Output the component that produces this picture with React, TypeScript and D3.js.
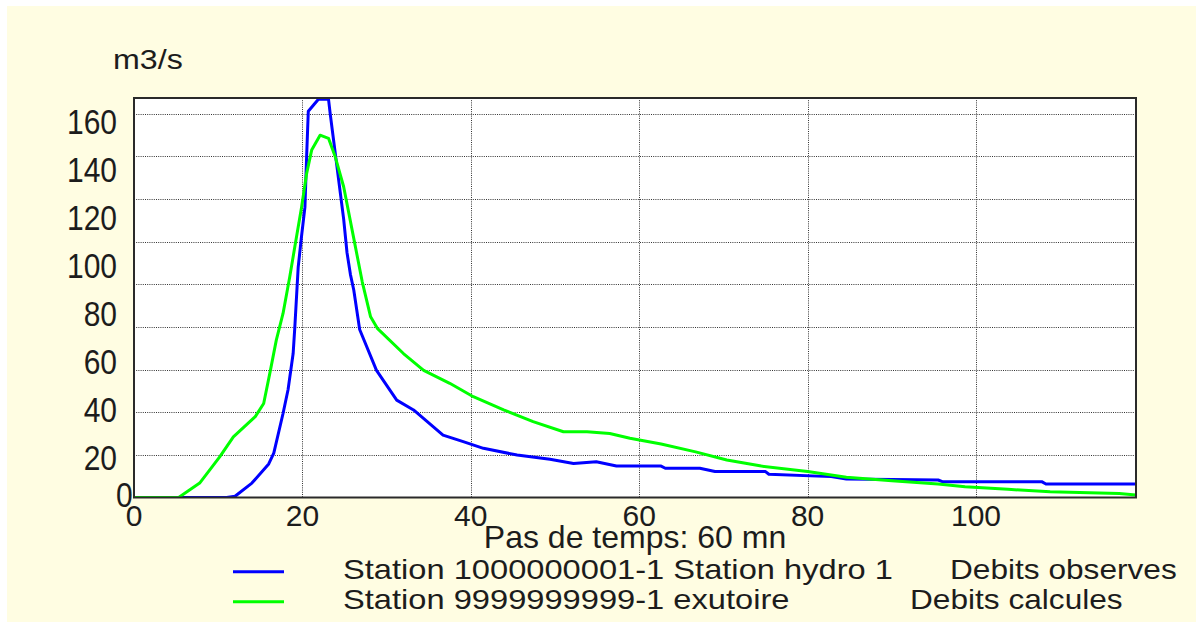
import React, { useRef, useEffect } from "react";
import * as d3 from "d3";

// hourly time step
const obsTime = [0, 11, 12, 14, 16, 16.6, 17.7, 18.3, 18.9, 19.1, 19.5, 19.9, 20.3, 20.5, 20.7, 21.3, 21.9, 23.1, 23.3, 23.7, 24.1, 24.5, 24.9, 25.3, 25.7, 26.1, 26.8, 28.8, 31.2, 33.2, 36.7, 39.1, 41.5, 45.5, 49.4, 52.2, 54.9, 57.3, 62.6, 63.1, 67.2, 69, 75, 75.4, 82.8, 84.6, 95.5, 96, 107.8, 108.3, 119];
const obsFlow = [0, 0, 0.5, 6, 14, 18.5, 35, 45, 60, 71, 96, 109, 121, 142, 161, 163.5, 166, 166, 160, 149, 138, 127, 116, 102, 93, 86.5, 70, 53, 40.6, 36.5, 26, 23.3, 20.5, 17.7, 15.9, 14.2, 14.9, 13.1, 13.1, 12.2, 12.2, 10.8, 10.8, 9.7, 8.7, 7.7, 7.3, 6.6, 6.6, 5.6, 5.6];

const calcTime = [0, 5.3, 7.8, 10.2, 11.8, 14.4, 15.4, 16.2, 16.9, 17.7, 18.5, 19.1, 19.9, 20.5, 21.1, 22.1, 23.1, 23.9, 24.9, 26.1, 27.1, 28.1, 28.9, 32, 34.4, 37.5, 40.3, 43.9, 47.4, 51, 53.8, 56.5, 58.9, 62.6, 66.7, 70.4, 74.5, 80, 84.6, 90, 95.5, 98.7, 103.8, 108.8, 117, 119];
const calcFlow = [0, 0, 6, 17, 25.3, 33.7, 39.2, 53, 65.6, 76.7, 92, 104.5, 121, 135, 144.8, 151, 149.7, 142, 129.5, 108, 90, 75.3, 70.5, 60, 53, 47.6, 42, 36.5, 31.6, 27.4, 27.4, 26.7, 24.7, 22.3, 19, 15.6, 13.1, 10.8, 8.4, 7, 5.6, 4.5, 3.4, 2.4, 1.7, 1];

const xTicks = [0, 20, 40, 60, 80, 100];
const yTicks = [0, 20, 40, 60, 80, 100, 120, 140, 160];

const seriesNames = ["Station 1000000001-1 Station hydro 1", "Station 9999999999-1 exutoire"];
const seriesKinds = ["Debits observes", "Debits calcules"];
const seriesColors = ["#0000ff", "#00ff00"];

const FONT = "'Liberation Sans', Arial, sans-serif";
const INK = "#1c1c1c";

const App = () => {
  const ref = useRef(null);
  const width = 1203;
  const height = 628;
  const plot = { left: 134, top: 98, right: 1136, bottom: 497.5 };

  useEffect(() => {
    const svg = d3.select(ref.current);
    svg.selectAll("*").remove();

    const x = d3.scaleLinear().domain([0, 119]).range([plot.left, plot.right]);
    const y = d3.scaleLinear().domain([0, 166.5]).range([plot.bottom, plot.top]);

    svg.append("rect").attr("width", width).attr("height", height).attr("fill", "#ffffff");
    svg
      .append("rect")
      .attr("x", 7)
      .attr("y", 6)
      .attr("width", 1189)
      .attr("height", 616)
      .attr("fill", "#fffde2");

    svg
      .append("rect")
      .attr("x", plot.left)
      .attr("y", plot.top)
      .attr("width", plot.right - plot.left)
      .attr("height", plot.bottom - plot.top)
      .attr("fill", "#ffffff");

    // the old chart splits 0..160 into 9 grid bands, not on the labels
    const yMax = yTicks[yTicks.length - 1];
    const hGrid = d3.range(1, 10).map((k) => (yMax * k) / 9);
    const grid = svg.append("g").attr("stroke", "#333").attr("stroke-width", 1).attr("stroke-dasharray", "1,1.2");
    grid
      .selectAll("line.h")
      .data(hGrid)
      .enter()
      .append("line")
      .attr("class", "h")
      .attr("x1", plot.left)
      .attr("x2", plot.right)
      .attr("y1", (d) => Math.round(y(d)) + 0.5)
      .attr("y2", (d) => Math.round(y(d)) + 0.5);
    grid
      .selectAll("line.v")
      .data(xTicks.filter((d) => d > 0))
      .enter()
      .append("line")
      .attr("class", "v")
      .attr("x1", (d) => Math.round(x(d)) + 0.5)
      .attr("x2", (d) => Math.round(x(d)) + 0.5)
      .attr("y1", plot.top)
      .attr("y2", plot.bottom);

    svg
      .append("clipPath")
      .attr("id", "plotclip")
      .append("rect")
      .attr("x", plot.left)
      .attr("y", plot.top)
      .attr("width", plot.right - plot.left)
      .attr("height", plot.bottom - plot.top);

    const line = d3
      .line()
      .x((d) => x(d[0]))
      .y((d) => y(d[1]));

    const series = [
      d3.zip(obsTime, obsFlow),
      d3.zip(calcTime, calcFlow),
    ];
    svg
      .append("g")
      .attr("clip-path", "url(#plotclip)")
      .selectAll("path")
      .data(series)
      .enter()
      .append("path")
      .attr("d", (d) => line(d))
      .attr("fill", "none")
      .attr("stroke", (d, i) => seriesColors[i])
      .attr("stroke-width", 3)
      .attr("stroke-linejoin", "round");

    svg
      .append("rect")
      .attr("x", plot.left)
      .attr("y", plot.top)
      .attr("width", plot.right - plot.left)
      .attr("height", plot.bottom - plot.top)
      .attr("fill", "none")
      .attr("stroke", "#2a2a2a")
      .attr("stroke-width", 2);

    // y tick labels (tall narrow glyphs, sit just below their value)
    svg
      .append("g")
      .selectAll("text")
      .data(yTicks)
      .enter()
      .append("text")
      .attr("transform", (d) =>
        d === 0
          ? `translate(116,507) scale(1,1.16)`
          : `translate(117,${y(d) + 20.5}) scale(1,1.16)`
      )
      .attr("text-anchor", (d) => (d === 0 ? "start" : "end"))
      .attr("font-family", FONT)
      .attr("font-size", 30)
      .attr("fill", INK)
      .text((d) => d);

    svg
      .append("g")
      .selectAll("text")
      .data(xTicks)
      .enter()
      .append("text")
      .attr("x", (d) => x(d))
      .attr("y", 526)
      .attr("text-anchor", "middle")
      .attr("font-family", FONT)
      .attr("font-size", 30)
      .attr("fill", INK)
      .text((d) => d);

    svg
      .append("text")
      .attr("transform", "translate(113,69) scale(1.15,1)")
      .attr("font-family", FONT)
      .attr("font-size", 28)
      .attr("fill", INK)
      .text("m3/s");

    svg
      .append("text")
      .attr("x", (plot.left + plot.right) / 2)
      .attr("y", 547.5)
      .attr("text-anchor", "middle")
      .attr("font-family", FONT)
      .attr("font-size", 32)
      .attr("fill", INK)
      .text("Pas de temps: 60 mn");

    // legend
    const rows = [
      { lineY: 571.7, baseY: 578.5, kindX: 950 },
      { lineY: 601.7, baseY: 608.7, kindX: 910 },
    ];
    const legend = svg.append("g");
    rows.forEach((r, i) => {
      legend
        .append("line")
        .attr("x1", 233)
        .attr("x2", 284)
        .attr("y1", r.lineY)
        .attr("y2", r.lineY)
        .attr("stroke", seriesColors[i])
        .attr("stroke-width", 3);
      legend
        .append("text")
        .attr("transform", `translate(343,${r.baseY}) scale(1.166,1)`)
        .attr("font-family", FONT)
        .attr("font-size", 28)
        .attr("fill", INK)
        .text(seriesNames[i]);
      legend
        .append("text")
        .attr("transform", `translate(${r.kindX},${r.baseY}) scale(1.13,1)`)
        .attr("font-family", FONT)
        .attr("font-size", 28)
        .attr("fill", INK)
        .text(seriesKinds[i]);
    });
  }, []);

  return (
    <svg
      ref={ref}
      width={width}
      height={height}
      style={{ position: "absolute", left: 0, top: 0, display: "block" }}
    />
  );
};

export default App;
